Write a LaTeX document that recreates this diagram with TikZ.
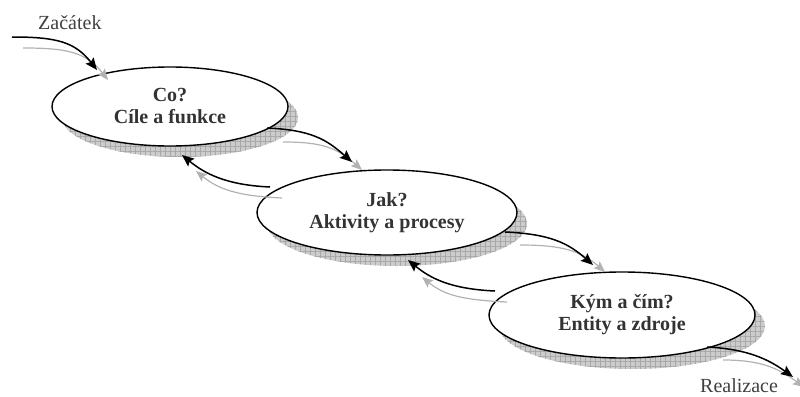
\documentclass[tikz,border=0pt]{standalone}
\usepackage{fontspec}
\setmainfont{Liberation Serif}
\usetikzlibrary{shapes.geometric,arrows.meta,patterns.meta}

\begin{document}
\begin{tikzpicture}[x=1pt,y=-1pt,
  phase/.style={ellipse, draw=black, line width=1.4pt, fill=white, inner sep=0pt,
    align=center, font=\fontsize{20}{22}\selectfont\bfseries, text=black!80},
  caption/.style={font=\fontsize{20}{22}\selectfont, text=black!75, inner sep=0pt},
  flow/.style={line width=1.5pt, draw=black,
    -{Stealth[length=12pt,width=10pt,inset=2pt]}},
  flowshade/.style={line width=1.2pt, draw=black!30,
    -{Stealth[length=11pt,width=9pt,inset=2pt]}},
  shadefill/.style={fill=black!20},
  shadegridh/.style={pattern={Lines[angle=0,distance=5pt,line width=0.3pt]}, pattern color=black!34},
  shadegridv/.style={pattern={Lines[angle=90,distance=5pt,line width=0.3pt]}, pattern color=black!34},
]
\useasboundingbox (0,0) rectangle (800,396);

% centres of the three phases
\coordinate (c1) at (170,106.5);
\coordinate (c2) at (387,212.5);
\coordinate (c3) at (622,315);

% grid-hatched drop shadows
\foreach \c/\rx/\ry in {c1/118/39.5, c2/130/42.5, c3/133/43} {
  \fill[shadefill]  ([shift={(10,11)}]\c) ellipse [x radius=\rx, y radius=\ry];
  \fill[shadegridh] ([shift={(10,11)}]\c) ellipse [x radius=\rx, y radius=\ry];
  \fill[shadegridv] ([shift={(10,11)}]\c) ellipse [x radius=\rx, y radius=\ry];
}

% phases
\node[phase, minimum width=236pt, minimum height=79pt] (e1) at (c1) {Co?\\Cíle a funkce};
\node[phase, minimum width=260pt, minimum height=85pt] (e2) at (c2) {Jak?\\Aktivity a procesy};
\node[phase, minimum width=266pt, minimum height=86pt] (e3) at (c3) {Kým a čím?\\Entity a zdroje};

% start and end labels
\node[caption, anchor=base west] (start) at (38,30) {Začátek};
\node[caption, anchor=base west] (finish) at (700,392) {Realizace};

% connector end points
\coordinate (in0)  at (12,37);   \coordinate (in0s)  at (23,48);
\coordinate (t1)   at (97,70);   \coordinate (t1s)   at (108,80);
\coordinate (f12)  at (267,128); \coordinate (f12s)  at (283,142);
\coordinate (t2)   at (352,162); \coordinate (t2s)   at (362,170);
\coordinate (b21)  at (270,187); \coordinate (b21s)  at (282,198);
\coordinate (tb1)  at (182,155); \coordinate (tb1s)  at (196,171);
\coordinate (f23)  at (505,232); \coordinate (f23s)  at (520,245);
\coordinate (t3)   at (593,265); \coordinate (t3s)   at (605,272);
\coordinate (b32)  at (495,291); \coordinate (b32s)  at (507,302);
\coordinate (tb2)  at (408,260); \coordinate (tb2s)  at (422,277);
\coordinate (out3) at (707,347); \coordinate (out3s) at (723,360);
\coordinate (tend) at (793,377); \coordinate (tends) at (804,387);

% grey echoes of the flow
\draw[flowshade] (in0s) .. controls +(44,0) and +(-22,-28) .. (t1s);
\draw[flowshade] (f12s) .. controls +(40,0) and +(-25,-22) .. (t2s);
\draw[flowshade] (b21s) .. controls +(-45,-2) and +(22,18) .. (tb1s);
\draw[flowshade] (f23s) .. controls +(40,0) and +(-25,-22) .. (t3s);
\draw[flowshade] (b32s) .. controls +(-45,-2) and +(22,18) .. (tb2s);
\draw[flowshade] (out3s) .. controls +(40,0) and +(-25,-18) .. (tends);

% main flow
\draw[flow] (in0) .. controls +(45,0) and +(-22,-28) .. (t1);
\draw[flow] (f12) .. controls +(45,2) and +(-25,-22) .. (t2);
\draw[flow] (b21) .. controls +(-45,-2) and +(22,18) .. (tb1);
\draw[flow] (f23) .. controls +(45,2) and +(-25,-22) .. (t3);
\draw[flow] (b32) .. controls +(-45,-2) and +(22,18) .. (tb2);
\draw[flow] (out3) .. controls +(40,2) and +(-25,-18) .. (tend);
\end{tikzpicture}
\end{document}
